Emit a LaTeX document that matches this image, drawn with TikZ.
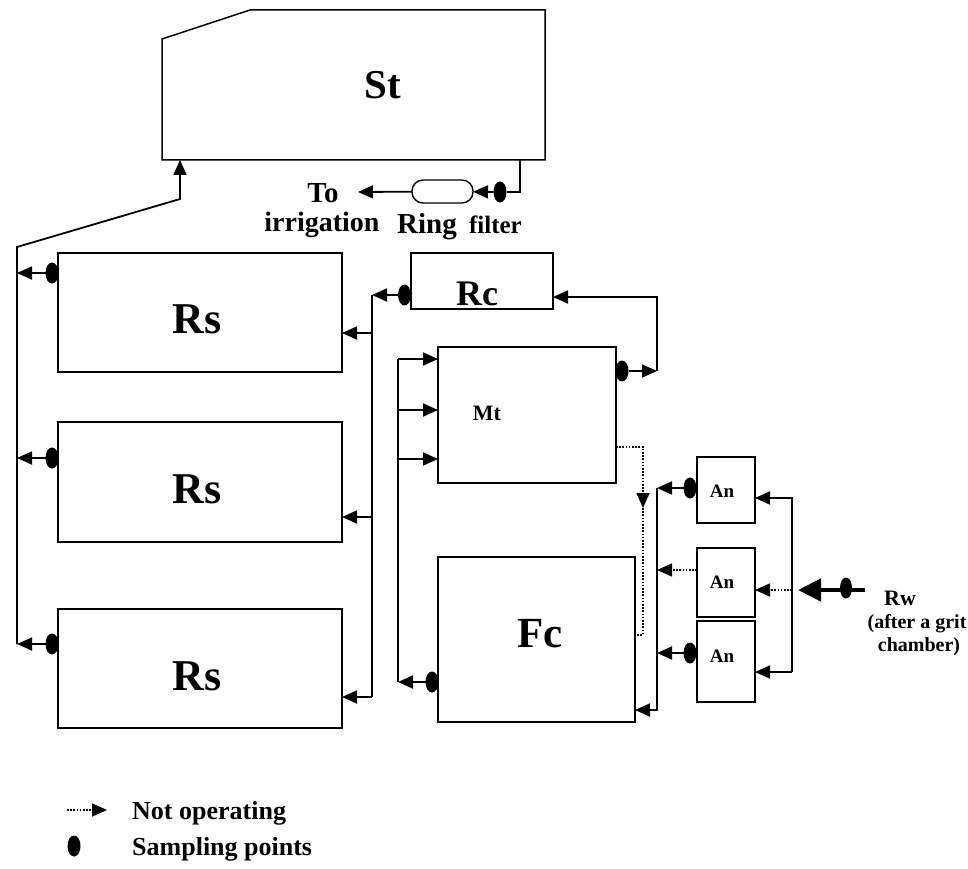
\documentclass[tikz,border=0pt]{standalone}
\usepackage{fontspec}
\setmainfont{Liberation Serif}
\usetikzlibrary{arrows.meta,shapes.geometric,calc}
\newcommand\myfs[1]{\fontsize{#1}{#1}\selectfont\bfseries}
\begin{document}
\begin{tikzpicture}[x=1pt,y=-1pt,
  box/.style={draw,line width=1.5pt,inner sep=0pt,outer sep=0pt},
  outline/.style={line width=1.5pt},
  tip/.style={-{Triangle[length=15pt,width=13pt]}},
  flow/.style={line width=1.8pt,tip},
  pipe/.style={line width=1.8pt},
  idle/.style={line width=1.6pt,dash pattern=on 1.6pt off 1.6pt},
  sdot/.style={fill,ellipse,minimum width=13pt,minimum height=21pt,inner sep=0pt,outer sep=0pt},
  lab/.style={anchor=base,inner sep=0pt}]
\useasboundingbox (0,0) rectangle (968,869);

% Storage tank
\node[minimum width=383pt,minimum height=150pt,inner sep=0pt,outer sep=0pt] (st) at (353.5,85) {};
\draw[outline] (st.south west) -- ($(st.north west)+(0,29)$) -- ($(st.north west)+(88,0)$) -- (st.north east) -- (st.south east) -- cycle;
\node[lab,font=\myfs{41}] (stl) at (383,99) {St};

% outlet to irrigation
\coordinate (sto) at (520,160);
\coordinate (stob) at (520,192);
\node[sdot] (fdot) at (500,192) {};
\node[draw,line width=1.4pt,rounded corners=11pt,minimum width=61pt,minimum height=23pt,inner sep=0pt,outer sep=0pt] (filt) at (442.5,191.5) {};
\coordinate (irr) at (358,192);
\draw[pipe] (sto) -- (stob) -- (fdot);
\draw[flow] (fdot) -- (filt);
\draw[flow] (filt) -- (irr);
\node[lab,font=\myfs{29}] (tol) at (323,202) {To};
\node[lab,font=\myfs{28}] (irl) at (322,231) {irrigation};
\node[lab,anchor=base west,font=\myfs{29}] (ringl) at (397,233) {Ring};
\node[lab,anchor=base east,font=\myfs{25}] (filtl) at (522,233) {filter};

% Rs boxes
\node[box,minimum width=284pt,minimum height=119pt] (rs1) at (200,312.5) {};
\node[box,minimum width=284pt,minimum height=120pt] (rs2) at (200,482) {};
\node[box,minimum width=284pt,minimum height=119pt] (rs3) at (200,668.5) {};
\node[lab,font=\myfs{44}] (rs1l) at (197,333) {Rs};
\node[lab,font=\myfs{44}] (rs2l) at (197,503) {Rs};
\node[lab,font=\myfs{44}] (rs3l) at (197,690) {Rs};

% left return bus to St
\coordinate (bl1) at (17,644);
\coordinate (bl2) at (17,247);
\coordinate (stin) at (180,199);
\draw[flow] (bl1) -- (bl2) -- (stin) -- (stin |- st.south);
\node[sdot] (ds1) at (52,273) {};
\node[sdot] (ds2) at (52,458) {};
\node[sdot] (ds3) at (52,644) {};
\draw[flow] (ds1) -- (ds1 -| bl2);
\draw[flow] (ds2) -- (ds2 -| bl2);
\draw[flow] (ds3) -- (ds3 -| bl2);

% Rc
\node[box,minimum width=142pt,minimum height=56pt] (rc) at (482,281) {};
\node[lab,font=\myfs{36}] (rcl) at (477,305) {Rc};
\node[sdot] (drc) at (404.5,295) {};
\coordinate (b2t) at (372,295);
\coordinate (b2b) at (372,697);
\draw[flow] (drc) -- (b2t);
\draw[pipe] (b2t) -- (b2b);
\coordinate (t1) at (372,333);
\coordinate (t2) at (372,517);
\draw[flow] (t1) -- (t1 -| rs1.east);
\draw[flow] (t2) -- (t2 -| rs2.east);
\draw[flow] (b2b) -- (b2b -| rs3.east);

% Mt
\node[box,minimum width=178pt,minimum height=136pt] (mt) at (527,415) {};
\node[lab,font=\myfs{22}] (mtl) at (487,420) {Mt};
\node[sdot] (dmt) at (622,371) {};
\coordinate (rcr) at (657,297);
\coordinate (rcrb) at (657,371);
\draw[flow] (dmt) -- (rcrb);
\draw[flow] (rcrb) -- (rcr) -- (rcr -| rc.east);

% Mt feed bus
\coordinate (b3t) at (398,359);
\coordinate (b3m) at (398,410);
\coordinate (b3n) at (398,459);
\coordinate (b3b) at (398,682);
\draw[pipe] (b3t) -- (b3b);
\draw[flow] (b3t) -- (b3t -| mt.west);
\draw[flow] (b3m) -- (b3m -| mt.west);
\draw[flow] (b3n) -- (b3n -| mt.west);

% Fc
\node[box,minimum width=197pt,minimum height=165pt] (fc) at (536.5,639.5) {};
\node[lab,font=\myfs{43}] (fcl) at (540,647) {Fc};
\node[sdot] (dfc) at (432,682) {};
\draw[flow] (dfc) -- (b3b);

% Mt -> Fc (not operating)
\coordinate (mo) at (616,447);
\coordinate (mc) at (643,447);
\coordinate (mm) at (643,508);
\coordinate (md) at (643,635);
\coordinate (fi) at (635,635);
\draw[idle,tip] (mo) -- (mc) -- (mm);
\draw[idle] (mm) -- (md) -- (fi);

% An boxes
\node[box,minimum width=58pt,minimum height=66pt] (an1) at (726,490) {};
\node[box,minimum width=58pt,minimum height=69pt] (an2) at (726,582.5) {};
\node[box,minimum width=58pt,minimum height=81pt] (an3) at (726,661.5) {};
\node[lab,font=\myfs{19}] (an1l) at (722,497.5) {An};
\node[lab,font=\myfs{19}] (an2l) at (722,588.5) {An};
\node[lab,font=\myfs{19}] (an3l) at (722,662.5) {An};

% An outlet bus to Fc
\coordinate (b4t) at (657,488);
\coordinate (b4b) at (657,710);
\draw[flow] (b4t) -- (b4b) -- (b4b -| fc.east);
\node[sdot] (da1) at (690,488) {};
\draw[flow] (da1) -- (b4t);
\coordinate (a2o) at (697,570);
\draw[idle,tip] (a2o) -- (a2o -| b4t);
\node[sdot] (da3) at (690,653) {};
\draw[flow] (da3) -- (da3 -| b4t);

% An inlet bus
\coordinate (b5t) at (792,498);
\coordinate (b5b) at (792,672);
\coordinate (a2i) at (792,590);
\draw[flow] (b5b) -- (b5t) -- (b5t -| an1.east);
\draw[flow] (b5b) -- (b5b -| an3.east);
\draw[idle,tip] (a2i) -- (a2i -| an2.east);

% Raw wastewater
\coordinate (rws) at (865,590);
\coordinate (rwe) at (798,590);
\draw[line width=4.5pt,-{Triangle[length=23pt,width=22pt]}] (rws) -- (rwe);
\node[sdot,minimum width=12pt] (drw) at (846,588) {};
\node[lab,font=\myfs{22}] (rwl) at (900,605) {Rw};
\node[lab,font=\myfs{20}] (rwl2) at (917,628) {(after a grit};
\node[lab,font=\myfs{20}] (rwl3) at (919,651) {chamber)};

% Legend
\coordinate (lg1) at (67,810);
\coordinate (lg2) at (107,810);
\draw[idle,tip] (lg1) -- (lg2);
\node[lab,anchor=base west,font=\myfs{26}] (lgt1) at (132,819) {Not operating};
\node[sdot] (lgd) at (74,846) {};
\node[lab,anchor=base west,font=\myfs{26}] (lgt2) at (132,855) {Sampling points};
\end{tikzpicture}
\end{document}
